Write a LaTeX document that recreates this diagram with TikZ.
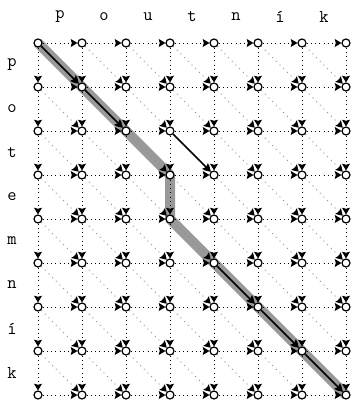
\documentclass[tikz,border=0pt]{standalone}
\usetikzlibrary{arrows.meta,backgrounds}
\begin{document}
\begin{tikzpicture}[x=0.75pt,y=-0.75pt,
  vtx/.style={circle,draw,fill=white,inner sep=0pt,minimum size=6pt,line width=0.9pt},
  tipst/.style={-{Stealth[length=5pt,width=6pt,inset=0.8pt,color=black]}},
  hv/.style={tipst,line width=0.7pt,dash pattern=on 0.7pt off 2.5pt},
  dg/.style={tipst,line width=0.7pt,dash pattern=on 0.7pt off 3.2pt,black!45},
  best/.style={-{Stealth[length=6pt,width=6pt,inset=1pt]},line width=1.3pt},
  halo/.style={line width=7.5pt,black!40,line join=round},
  lab/.style={font=\ttfamily\fontsize{13.5}{16}\selectfont,inner sep=0pt}]
\useasboundingbox (0,0) rectangle (352,409);
% nodes
\foreach \c in {0,...,7}{\foreach \r in {0,...,8}{
  \node[vtx] (n\c-\r) at ({38+44*\c},{43+44*\r}) {};}}
% labels
\foreach \t [count=\i from 0] in {p,o,u,t,n,í,k}{
  \node[lab] (col\i) at ({60+44*\i},17) {\t};}
\foreach \t [count=\i from 0] in {p,o,t,e,m,n,í,k}{
  \node[lab] (row\i) at (12,{65+44*\i}) {\t};}
% halo
\begin{scope}[on background layer]
\draw[halo] (n0-0.center) -- (n1-1.center) -- (n2-2.center) -- (n3-3.center)
  -- (n3-4.center) -- (n4-5.center) -- (n5-6.center) -- (n6-7.center) -- (n7-8.center);
\end{scope}
% edges
\foreach \c in {1,...,7}{\foreach \r in {0,...,8}{
  \pgfmathtruncatemacro\p{\c-1}
  \draw[hv] (n\p-\r) -- (n\c-\r);}}
\foreach \c in {0,...,7}{\foreach \r in {1,...,8}{
  \pgfmathtruncatemacro\q{\r-1}
  \draw[hv] (n\c-\q) -- (n\c-\r);}}
\foreach \c in {1,...,7}{\foreach \r in {1,...,8}{
  \pgfmathtruncatemacro\p{\c-1}
  \pgfmathtruncatemacro\q{\r-1}
  \draw[dg] (n\p-\q) -- (n\c-\r);}}
% best arrows
\draw[best] (n0-0) -- (n1-1);
\draw[best] (n1-1) -- (n2-2);
\draw[best] (n3-2) -- (n4-3);
\draw[best] (n4-5) -- (n5-6);
\draw[best] (n5-6) -- (n6-7);
\draw[best] (n6-7) -- (n7-8);
\end{tikzpicture}
\end{document}
